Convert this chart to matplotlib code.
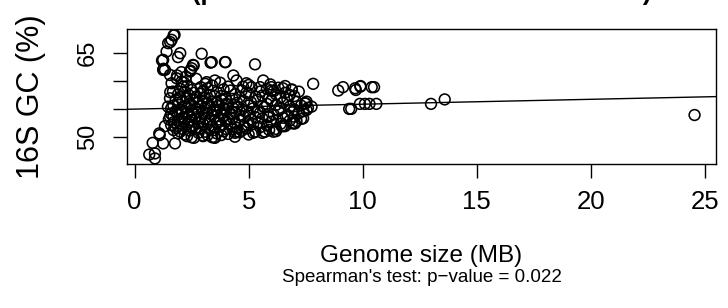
import numpy as np
import matplotlib
matplotlib.use("Agg")
import matplotlib.pyplot as plt

plt.rcParams['font.family'] = ['Liberation Sans', 'DejaVu Sans']

# isolated / edge points
edge_x = [1.75, 1.62, 1.47, 1.25, 1.40, 1.25, 2.00, 1.90, 2.94, 3.33, 3.99, 5.28, 7.83,
          8.93, 9.14, 9.67, 9.91, 10.5, 9.41, 9.88, 10.1, 10.3, 10.6, 10.4, 9.70, 9.90,
          9.50, 13.0, 13.6, 24.56]
edge_y = [68.3, 67.4, 66.8, 63.8, 65.3, 62.0, 65.0, 64.3, 64.9, 63.3, 63.4, 63.0, 59.5,
          58.3, 58.9, 58.7, 59.1, 58.9, 55.0, 55.9, 55.9, 55.9, 55.9, 58.9, 58.4, 59.0,
          55.0, 55.9, 56.7, 53.9]

tail_x = [0.64, 0.89, 0.89, 0.79, 1.08, 1.25, 1.33, 1.77, 1.10, 1.55, 1.46, 1.55, 1.68,
          1.62, 1.84, 1.55, 1.33, 2.06, 2.13, 1.71, 1.56, 1.20, 1.27, 2.59, 2.44, 1.86,
          2.15, 1.56, 3.10, 2.50, 2.43, 2.56]
tail_y = [46.8, 47.0, 46.1, 48.9, 50.6, 48.8, 51.9, 48.8, 50.3, 53.6, 55.4, 56.9, 58.1,
          59.6, 60.5, 61.1, 62.0, 59.9, 59.0, 68.2, 67.0, 63.7, 62.2, 62.8, 61.9, 61.0,
          59.8, 58.0, 59.5, 62.3, 61.7, 62.9]

upper_x = [3.38, 3.96, 4.33, 4.47, 5.64, 3.16, 3.52, 6.00, 5.86, 6.20, 5.50, 5.13, 4.75,
           6.50, 6.89, 7.47, 7.54, 7.39, 7.00, 6.45, 6.08, 5.70, 5.20, 4.40, 3.50, 2.50,
           3.00, 3.52, 4.47, 5.28, 5.71, 6.52, 7.03, 7.76, 7.54, 2.25, 2.05, 2.70, 3.75,
           4.90, 5.95]
upper_y = [63.4, 63.4, 61.0, 60.1, 60.1, 59.8, 60.1, 58.3, 53.5, 51.4, 58.9, 58.9, 59.0,
           58.7, 58.5, 56.0, 54.8, 53.3, 52.4, 51.9, 50.9, 50.9, 50.7, 50.7, 49.9, 49.9,
           50.1, 49.8, 50.9, 50.9, 50.9, 51.9, 52.4, 55.4, 56.3, 60.8, 61.6, 60.4, 59.7,
           59.6, 59.4]

core_x = [2.3, 2.6, 3.0, 3.4, 3.8, 4.4,
          1.9, 2.2, 2.8, 3.2, 3.6, 4.1, 4.6, 5.0, 5.6,
          1.7, 2.0, 2.4, 2.7, 3.1, 3.5, 3.9, 4.3, 4.7, 5.3, 5.9, 6.2,
          1.8, 2.1, 2.5, 2.9, 3.3, 3.7, 4.0, 4.5, 4.9, 5.5, 6.6,
          1.6, 1.9, 2.3, 2.6, 3.0, 3.4, 3.8, 4.2, 4.8, 5.2, 5.8, 6.9,
          1.7, 2.0, 2.4, 2.8, 3.2, 3.6, 4.0, 4.4, 5.0, 5.4, 6.0, 6.4, 7.1,
          1.5, 1.9, 2.2, 2.5, 2.9, 3.3, 3.7, 4.1, 4.6, 5.1, 5.6, 6.2, 6.8, 7.3,
          1.7, 2.1, 2.4, 2.7, 3.1, 3.5, 3.9, 4.3, 4.8, 5.3, 5.9, 6.5, 7.0,
          1.6, 1.9, 2.3, 2.6, 3.0, 3.4, 3.8, 4.2, 4.6, 5.0, 5.5, 6.1, 6.7, 7.2,
          1.8, 2.1, 2.5, 2.8, 3.2, 3.6, 4.0, 4.4, 4.9, 5.4, 6.3, 6.9, 7.4,
          1.6, 2.0, 2.3, 2.7, 3.1, 3.5, 3.9, 4.3, 4.7, 5.2, 5.7, 6.4, 7.0, 7.6,
          1.7, 2.2, 2.5, 2.9, 3.3, 3.7, 4.1, 4.5, 5.0, 5.6, 6.2, 6.8, 7.3,
          1.9, 2.4, 2.8, 3.2, 3.6, 4.0, 4.5, 5.1, 5.8, 6.5, 7.1, 7.5,
          1.8, 2.1, 2.6, 3.0, 3.4, 3.8, 4.3, 4.8, 5.4, 6.0, 6.7,
          2.0, 2.3, 2.7, 3.1, 3.5, 4.0, 4.6, 5.3, 5.9, 6.4, 7.0,
          1.9, 2.4, 2.9, 3.3, 3.8, 4.4, 5.0, 5.6, 6.2, 6.8,
          2.2, 2.6, 3.0, 3.6, 4.2, 4.9, 5.5, 6.1, 6.6, 7.2,
          2.0, 2.5, 3.2, 3.9, 4.7, 5.8, 6.3, 6.9,
          2.3, 2.9, 3.4, 4.1, 5.0, 6.0, 6.6]
core_y = [50.1, 49.8, 50.2, 49.9, 50.3, 50.0,
          50.6, 50.4, 50.7, 50.3, 50.6, 50.5, 50.8, 50.4, 50.7,
          51.2, 50.9, 51.1, 51.3, 50.9, 51.2, 51.0, 51.3, 51.1, 50.9, 51.2, 51.0,
          51.6, 51.4, 51.7, 51.5, 51.3, 51.8, 51.4, 51.6, 51.5, 51.7, 51.9,
          52.1, 51.9, 52.2, 52.0, 52.3, 51.9, 52.1, 52.2, 51.9, 52.3, 52.0, 52.4,
          52.6, 52.4, 52.7, 52.5, 52.3, 52.6, 52.8, 52.4, 52.6, 52.5, 52.7, 52.3, 52.8,
          53.1, 52.9, 53.2, 53.0, 53.3, 52.9, 53.1, 53.2, 52.9, 53.1, 53.3, 53.0, 52.9, 53.2,
          53.6, 53.4, 53.7, 53.5, 53.3, 53.6, 53.8, 53.4, 53.6, 53.5, 53.7, 53.4, 53.6,
          54.1, 53.9, 54.2, 54.0, 54.3, 53.9, 54.1, 54.2, 53.9, 54.1, 54.3, 54.0, 53.9, 54.2,
          54.6, 54.4, 54.7, 54.5, 54.3, 54.6, 54.8, 54.4, 54.6, 54.5, 54.7, 54.4, 54.6,
          55.1, 54.9, 55.2, 55.0, 55.3, 54.9, 55.1, 55.2, 54.9, 55.1, 55.3, 55.0, 54.9, 55.2,
          55.6, 55.4, 55.7, 55.5, 55.3, 55.6, 55.8, 55.4, 55.6, 55.5, 55.7, 55.4, 55.6,
          56.1, 55.9, 56.2, 56.0, 56.3, 55.9, 56.1, 56.2, 55.9, 56.1, 56.3, 56.0,
          56.6, 56.4, 56.7, 56.5, 56.3, 56.6, 56.8, 56.4, 56.6, 56.5, 56.7,
          57.1, 56.9, 57.2, 57.0, 57.3, 56.9, 57.1, 57.2, 56.9, 57.1, 57.3,
          57.6, 57.4, 57.7, 57.5, 57.3, 57.6, 57.8, 57.4, 57.6, 57.5,
          58.1, 57.9, 58.2, 58.0, 58.3, 57.9, 58.1, 58.2, 57.9, 58.1,
          58.6, 58.4, 58.7, 58.5, 58.3, 58.6, 58.8, 58.4,
          59.1, 58.9, 59.2, 59.0, 59.3, 58.9, 59.1]

# lm fit line
fit_intercept = 54.96
fit_slope = 0.088

x_ticks = [0, 5, 10, 15, 20, 25]
y_ticks = [50, 55, 60, 65]
y_ticklabels = ['50', '', '', '65']

genome = np.array(edge_x + tail_x + upper_x + core_x)
gc = np.array(edge_y + tail_y + upper_y + core_y)

fig = plt.figure(figsize=(7.28, 3.08), dpi=100)
ax = fig.add_axes([0.174, 0.4675, 0.8095, 0.4375])

ax.scatter(genome, gc, s=60, facecolors='none', edgecolors='black', linewidths=1.15)
ax.axline((0, fit_intercept), slope=fit_slope, color='black', lw=1.0)

ax.set_xlim(-0.35, 25.5)
ax.set_ylim(45.1, 69.3)
ax.set_xticks(x_ticks)
ax.set_yticks(y_ticks)
ax.set_yticklabels(y_ticklabels, rotation=90, va='center')
ax.tick_params(axis='both', length=10, width=1.0, direction='out')
ax.tick_params(axis='x', pad=8.5, labelsize=18.5)
ax.tick_params(axis='y', pad=10, labelsize=17)
for sp in ax.spines.values():
    sp.set_linewidth(1.0)

ax.set_xlabel("Genome size (MB)", fontsize=17.5, va='baseline')
ax.xaxis.set_label_coords(0.5, -(262 - 164) / 134.7)
ax.set_ylabel("16S GC (%)", fontsize=22, va='center')
ax.yaxis.set_label_coords(-(126.7 - 31) / 589.3, 0.5)
fig.text(0.579, 1 - 282 / 308, "Spearman's test: p\u2212value = 0.022", ha='center',
         va='baseline', fontsize=13.5)
fig.text(0.579, 1.0, "(pooled isolates with linear fit shown)", ha='center', va='baseline',
         fontsize=18.5, fontweight='bold')

fig.savefig("out.png", dpi=100)
